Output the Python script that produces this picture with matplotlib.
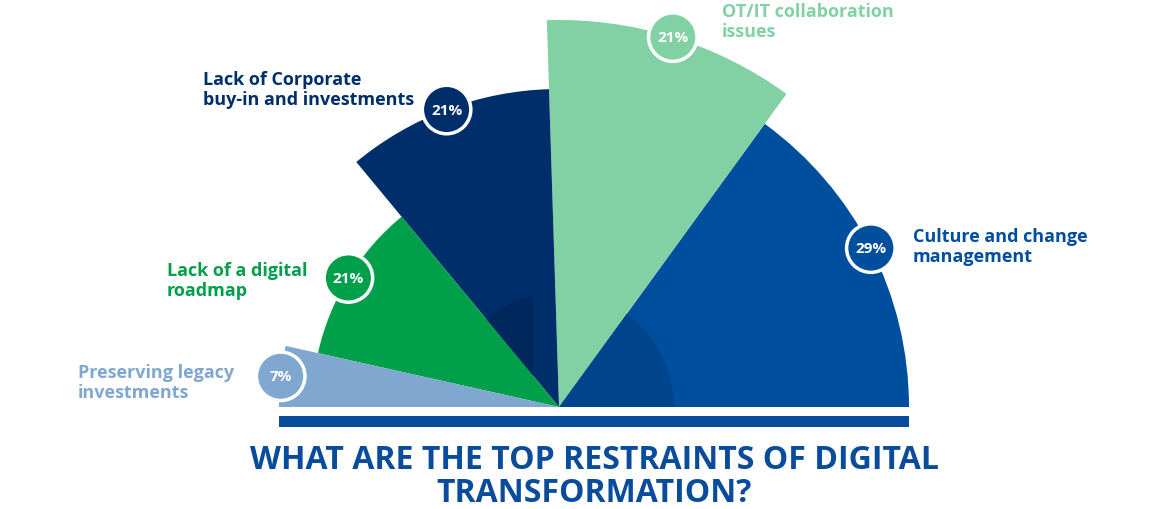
import numpy as np
import matplotlib.pyplot as plt
from matplotlib.patches import Wedge, Circle, Polygon, Rectangle

# data
categories = ["Culture and change\nmanagement", "OT/IT collaboration\nissues",
              "Lack of Corporate\nbuy-in and investments", "Lack of a digital\nroadmap",
              "Preserving legacy\ninvestments"]
values = [29, 21, 21, 21, 7]
pct_labels = ["29%", "21%", "21%", "21%", "7%"]

# styles
colors = ["#004f9e", "#82d1a5", "#002e6b", "#00a04b", "#80a7cf"]
radii = [350, 387, 318, 247, 280]
label_pos = [(913, 247), (722, 22), (203, 90), (167, 281), (78, 383)]

W, H = 1165, 510
cx, cy = 559, H - 408

fig = plt.figure(figsize=(W / 100, H / 100), dpi=100)
ax = fig.add_axes([0, 0, 1, 1])
ax.set_xlim(0, W)
ax.set_ylim(0, H)
ax.axis("off")

font = ["Open Sans", "DejaVu Sans"]

# 1.8 degrees per percent, filled from the left; the last slice takes what is left
n = len(values)
ends = [180.0]
for v in values[::-1]:
    ends.append(max(ends[-1] - v * 1.8, 0))
ends[-1] = 0
bounds = ends[::-1]  # bounds[i] .. bounds[i+1] for values[i]
starts = np.array(bounds[:-1])
angles = np.array(bounds[1:]) - starts

for i in range(n):
    t1, t2 = starts[i], starts[i] + angles[i]
    ax.add_patch(Wedge((cx, cy), radii[i], t1, t2, color=colors[i], lw=0, zorder=2))

# darker inner shading
ax.add_patch(Wedge((cx, cy), 115, starts[0], starts[0] + angles[0],
                   color="#00458b", lw=0, zorder=3))
# navy shading cut by a vertical edge
tb = np.radians(starts[3])
xv = 533
r_in = 114
a_top = np.degrees(np.arccos((xv - cx) / r_in))
arc = np.radians(np.linspace(a_top, starts[3], 30))
pts = [(cx + r_in * np.cos(a), cy + r_in * np.sin(a)) for a in arc]
tline = (xv - cx) / np.cos(tb)
pts.append((xv, cy + tline * np.sin(tb)))
ax.add_patch(Polygon(pts, closed=True, color="#00285c", lw=0, zorder=3))

# circles with percentages
for i in range(n):
    mid = np.radians(starts[i] + angles[i] / 2)
    px = cx + radii[i] * np.cos(mid)
    py = cy + radii[i] * np.sin(mid)
    ax.add_patch(Circle((px, py), 26, color="white", lw=0, zorder=4))
    ax.add_patch(Circle((px, py), 22.5, color=colors[i], lw=0, zorder=5))
    ax.text(px, py, pct_labels[i], color="white", fontsize=11, fontweight="bold",
            ha="center", va="center", family=font, zorder=6)
    lx, ly = label_pos[i]
    ax.text(lx, H - ly, categories[i], color=colors[i], fontsize=13, fontweight="bold",
            ha="left", va="center", family=font, linespacing=1.15, zorder=6)

# base bar
ax.add_patch(Rectangle((279, H - 428), 630, 11, color="#0a4c9c", lw=0, zorder=2))

ax.text(594, H - 477, "WHAT ARE THE TOP RESTRAINTS OF DIGITAL\nTRANSFORMATION?",
        color="#0a4c9c", fontsize=23, fontweight="bold", ha="center", va="center",
        family=font, linespacing=1.0)

fig.savefig("out.png", dpi=100)
